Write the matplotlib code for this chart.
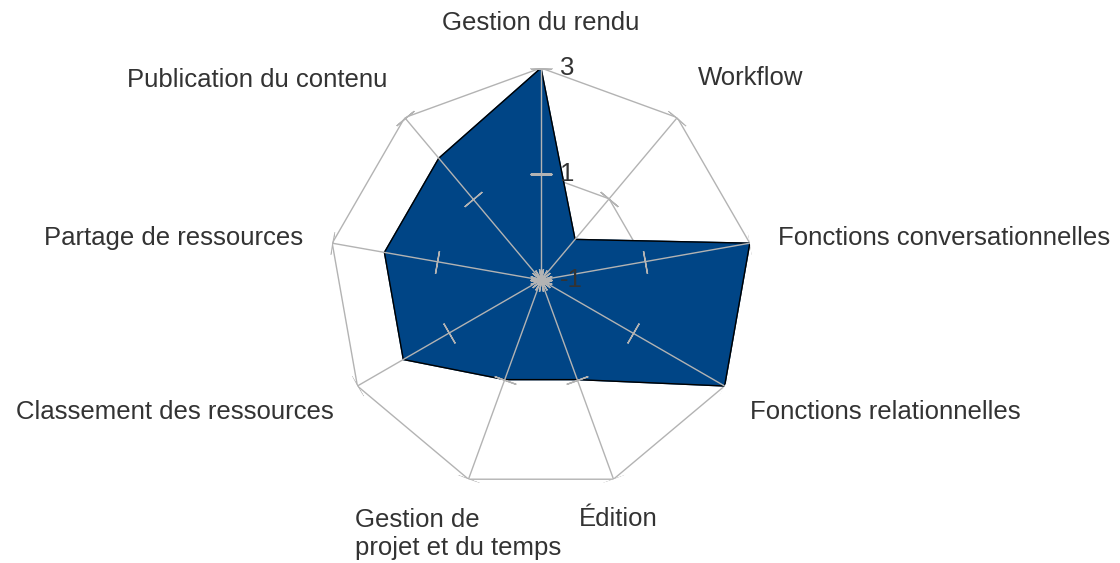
import numpy as np
import matplotlib
matplotlib.use("Agg")
import matplotlib.pyplot as plt

plt.rcParams['font.family'] = ['Liberation Sans', 'DejaVu Sans']

categories = ["Gestion du rendu", "Workflow", "Fonctions conversationnelles",
              "Fonctions relationnelles", "Édition", "Gestion de\nprojet et du temps",
              "Classement des ressources", "Partage de ressources", "Publication du contenu"]
values = [3, 0, 3, 3, 1, 1, 2, 2, 2]
tick_values = [-1, 1, 3]
tick_labels = ["-1", "1", "3"]

# label placement (pixel offsets from outer vertex, alignment)
label_offsets = [(0, 45, 'center'), (73, 40, 'center'), (28, 5, 'left'),
                 (25, -26, 'left'), (5, -40, 'center'), (-10, -55, 'center'),
                 (-24, -26, 'right'), (-29, 5, 'right'), (-17, 38, 'right')]

grid_color = '#b3b3b3'
fill_color = '#004586'
text_color = '#333333'
fs = 18.5

n = len(categories)
theta = np.arange(n) * 2 * np.pi / n
theta_c = np.append(theta, theta[0])

fig = plt.figure(figsize=(11.2, 5.63), dpi=100)
ax = fig.add_axes([(541 - 212) / 1120, (563 - 280 - 212) / 563, 424 / 1120, 424 / 563],
                  projection='polar')
ax.set_theta_offset(np.pi / 2)
ax.set_theta_direction(-1)
ax.set_ylim(-1, 3)
ax.axis('off')

# grid polygons (under the fill)
for v in tick_values[1:]:
    ax.plot(theta_c, [v] * (n + 1), color=grid_color, lw=1, zorder=1)

vals_c = values + values[:1]
ax.fill(theta_c, vals_c, color=fill_color, zorder=2)
ax.plot(theta_c, vals_c, color='black', lw=1, zorder=2.5)

# spokes and ticks
for i, t in enumerate(theta):
    ax.plot([t, t], [tick_values[0], tick_values[-1]], color=grid_color, lw=1, zorder=3)
    ang = -90 - 40 * i
    ax.plot([t] * len(tick_values), tick_values, ls='none', marker=(2, 2, ang),
            ms=16.5, mec=grid_color, mew=1, zorder=3)

for v, lab in zip(tick_values, tick_labels):
    ax.annotate(lab, xy=(0, v), xytext=(19, 0), textcoords='offset pixels',
                ha='left', va='center', fontsize=fs, color=text_color, zorder=4)

for i, (t, lab) in enumerate(zip(theta, categories)):
    dx, dy, ha = label_offsets[i]
    ax.annotate(lab, xy=(t, 3), xytext=(dx, dy), textcoords='offset pixels',
                ha=ha, va='center', fontsize=fs, color=text_color,
                multialignment='left', annotation_clip=False)

fig.savefig("out.png", dpi=100)
